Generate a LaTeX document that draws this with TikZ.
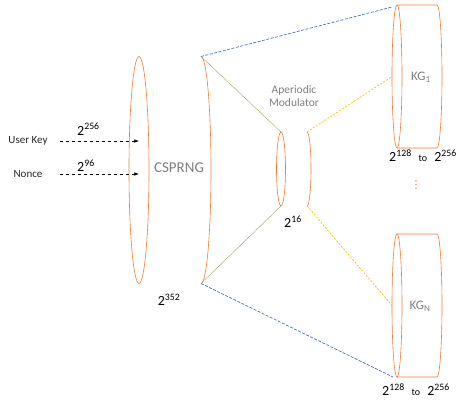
\documentclass[tikz,border=0pt]{standalone}
\usepackage{fontspec}
\setmainfont{Carlito}
\newfontfamily\symfont{DejaVu Sans}
\usepackage{xcolor}
\usetikzlibrary{arrows.meta, positioning, shapes.geometric}

\definecolor{cylorange}{HTML}{ED7D31}
\definecolor{linkblue}{HTML}{4472C4}
\definecolor{linkgreen}{HTML}{8FAA5A}
\definecolor{linkyellow}{HTML}{FFC000}
\definecolor{labelgray}{HTML}{7F7F7F}

\begin{document}
\begin{tikzpicture}[
  x=1pt, y=-1pt,
  cyl/.style={draw=cylorange, line width=0.6pt},
  rim/.style={cyl, ellipse, inner sep=0pt, outer sep=0pt},
  lbl/.style={text=labelgray, align=center},
  pow/.style={font=\fontsize{14}{16}\selectfont, inner sep=0pt},
  src/.style={font=\fontsize{11}{13}\selectfont, text=black!85},
  inarr/.style={-{Latex[length=1.6mm, width=1.2mm]}, dashed, line width=0.6pt},
  blueln/.style={draw=linkblue, dash pattern=on 3pt off 1.5pt, line width=0.7pt},
  greenln/.style={draw=linkgreen, dash pattern=on 1pt off 0.6pt, line width=0.6pt},
  yellowln/.style={draw=linkyellow, dash pattern=on 2pt off 1.5pt, line width=0.7pt}
]
\useasboundingbox (0,0) rectangle (456,408);

% CSPRNG
\node[rim, minimum width=20pt, minimum height=227pt] (csL) at (139,170) {};
\coordinate (csRt) at (201,56.5);
\coordinate (csRb) at (201,283.5);
\draw[cyl] (csRt) arc[start angle=90, end angle=-90, x radius=10pt, y radius=113.5pt];
\node[lbl, font=\fontsize{15}{17}\selectfont] (cs) at (179,168) {CSPRNG};
\node[pow] (cspow) at (169,300) {2\textsuperscript{352}};

% inputs
\node[src] (ukey) at (28,141) {User Key};
\node[src] (nonce) at (28,174) {Nonce};
\draw[inarr] ([xshift=32pt]ukey.center) -- (ukey -| csL);
\draw[inarr] ([xshift=32pt]nonce.center) -- (nonce -| csL);
\node[pow, anchor=base west] (keypow) at (77,135) {2\textsuperscript{256}};
\node[pow, anchor=base west] (noncepow) at (77,171.5) {2\textsuperscript{96}};

% modulator
\node[rim, minimum width=9pt, minimum height=74pt] (modL) at (281,169) {};
\coordinate (modRt) at (307,132);
\coordinate (modRb) at (307,206);
\draw[cyl] (modRt) arc[start angle=90, end angle=-90, x radius=4pt, y radius=37pt];
\node[lbl, font=\fontsize{11.5}{13}\selectfont] (modtxt) at (294,96) {Aperiodic\\Modulator};
\node[pow] (modpow) at (293,222) {2\textsuperscript{16}};

% key generators
\node[rim, minimum width=10pt, minimum height=143pt] (kg1L) at (397,76.5) {};
\draw[cyl] (kg1L.north) -- ++(40,0)
  arc[start angle=90, end angle=-90, x radius=5pt, y radius=71.5pt] -- (kg1L.south);
\node[lbl, font=\fontsize{13}{15}\selectfont] (kg1) at (421,77) {KG\textsubscript{1}};
\node[pow] (kg1rng) at (423,156) {2\textsuperscript{128}\enspace{\fontsize{10}{12}\selectfont to}\enspace2\textsuperscript{256}};
\node[text=cylorange, inner sep=0pt, font=\symfont\fontsize{11}{12}\selectfont] (dots) at (416,185) {⋮};

\node[rim, minimum width=10pt, minimum height=143pt] (kgNL) at (397,305.5) {};
\draw[cyl] (kgNL.north) -- ++(40,0)
  arc[start angle=90, end angle=-90, x radius=5pt, y radius=71.5pt] -- (kgNL.south);
\node[lbl, font=\fontsize{13}{15}\selectfont] (kgN) at (420,306) {KG\textsubscript{N}};
\node[pow] (kgNrng) at (416,390) {2\textsuperscript{128}\enspace{\fontsize{10}{12}\selectfont to}\enspace2\textsuperscript{256}};

% links
\draw[blueln] (csRt) -- ([xshift=-5pt, yshift=-2pt]kg1L.north);
\draw[blueln] (csRb) -- ([xshift=-4pt]kgNL.south);
\draw[greenln] (csRt) -- (modL.north);
\draw[greenln] (csRb) -- (modL.south);
\draw[yellowln] (modRt) -- (kg1L.west);
\draw[yellowln] (modRb) -- (kgNL.west);
\end{tikzpicture}
\end{document}
